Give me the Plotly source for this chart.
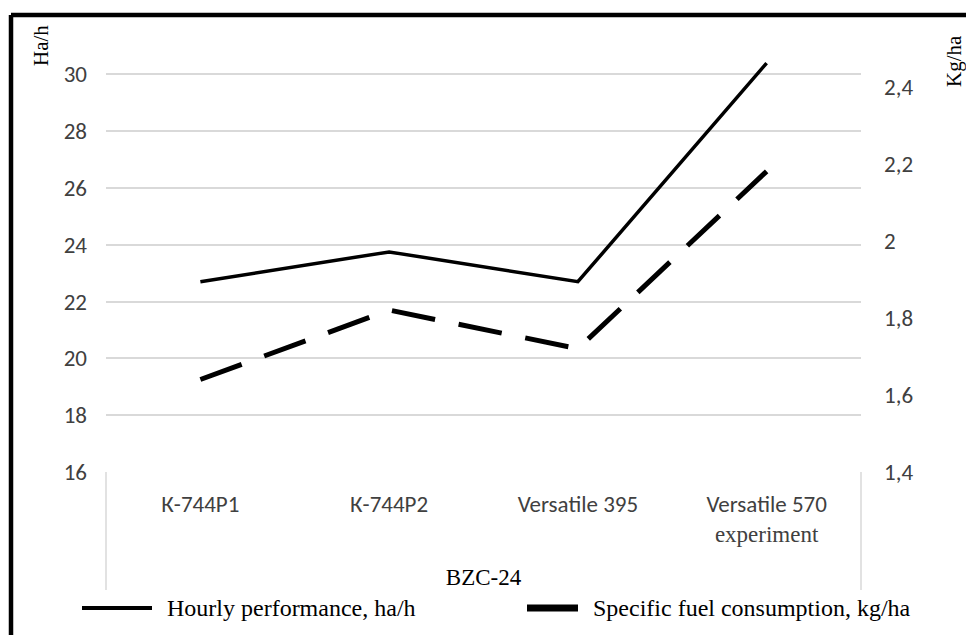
import plotly.graph_objects as go

# dati
tractors = ["K-744P1", "K-744P2", "Versatile 395", "Versatile 570 experiment"]
tractor_labels = ["К-744Р1", "К-744Р2", "Versatile 395",
                  "Versatile 570<br><span style='font-family:Liberation Serif'>experiment</span>"]
hourly_perf = [22.7, 23.75, 22.7, 30.4]        # ha/h, asse sinistro
fuel_cons = [1.64, 1.82, 1.72, 2.18]           # kg/ha, asse destro
series_names = ["Hourly performance, ha/h", "Specific fuel consumption, kg/ha"]

left_ticks = [16, 18, 20, 22, 24, 26, 28, 30]
right_ticks = [1.4, 1.6, 1.8, 2.0, 2.2, 2.4]
right_labels = ["1,4", "1,6", "1,8", "2", "2,2", "2,4"]

sans = "Carlito, Lato, sans-serif"
serif = "Liberation Serif, Times New Roman, serif"

fig = go.Figure()

fig.add_trace(go.Scatter(x=tractors, y=hourly_perf, mode="lines",
                         name=series_names[0],
                         line=dict(color="black", width=3.5)))
fig.add_trace(go.Scatter(x=tractors, y=fuel_cons, mode="lines",
                         name=series_names[1], yaxis="y2",
                         line=dict(color="black", width=5, dash="44px,24px")))

# la pagina ha 8px di margine nel body
OFF = 8
W, H = 974, 635
L, R, T, B = 106 - OFF, W - (861 - OFF), 46 - OFF, H - (472 - OFF)
pw, ph = W - L - R, H - T - B


def px_x(p):
    return (p - OFF - L) / pw


def px_y(p):
    return (H - B - (p - OFF)) / ph


fig.update_layout(
    width=W, height=H,
    margin=dict(l=L, r=R, t=T, b=B, autoexpand=False),
    paper_bgcolor="white", plot_bgcolor="white",
    separators=", ",
    showlegend=False,
    xaxis=dict(tickmode="array", tickvals=tractors, ticktext=tractor_labels,
               range=[-0.5, 3.5], automargin=False,
               tickfont=dict(family=sans, size=23, color="#404040"),
               ticks="", ticklabelstandoff=16,
               showgrid=False, showline=False, zeroline=False,
               title=dict(text="BZC-24", font=dict(family=serif, size=23, color="black"),
                          standoff=22)),
    yaxis=dict(range=[16, 31], tickmode="array", tickvals=left_ticks, automargin=False,
               tickfont=dict(family=sans, size=23, color="#404040"),
               ticklabelstandoff=18,
               showgrid=True, gridcolor="#d9d9d9", gridwidth=1.5,
               zeroline=False, showline=False),
    yaxis2=dict(range=[1.4, 1.4 + ph / 385.5], overlaying="y", side="right",
                tickmode="array", tickvals=right_ticks, ticktext=right_labels,
                automargin=False,
                tickfont=dict(family=sans, size=23, color="#404040"),
                ticklabelstandoff=22,
                showgrid=False, zeroline=False, showline=False),
)

# titoli degli assi verticali
fig.add_annotation(text="Ha/h", textangle=-90, xref="paper", yref="paper",
                   x=px_x(41), y=px_y(46), xanchor="center", yanchor="middle",
                   showarrow=False, font=dict(family=serif, size=21, color="black"))
fig.add_annotation(text="Kg/ha", textangle=-90, xref="paper", yref="paper",
                   x=px_x(954), y=px_y(61), xanchor="center", yanchor="middle",
                   showarrow=False, font=dict(family=serif, size=21, color="black"))

# legenda disegnata a mano (simboli lunghi come nell'originale)
legend_items = [(82, 152, 4, None), (527, 578, 7, None)]
for (xa, xb, lw, _), name in zip(legend_items, series_names):
    fig.add_shape(type="line", xref="paper", yref="paper",
                  x0=px_x(xa), x1=px_x(xb), y0=px_y(608), y1=px_y(608),
                  line=dict(color="black", width=lw))
    fig.add_annotation(text=name, xref="paper", yref="paper",
                       x=px_x(xb + 13), y=px_y(608), xanchor="left", yanchor="middle",
                       showarrow=False, font=dict(family=serif, size=24, color="black"))

# riquadro delle categorie e cornice nera
for xv in [0, 1]:
    fig.add_shape(type="line", xref="paper", yref="paper",
                  x0=xv, x1=xv, y0=0, y1=px_y(590),
                  line=dict(color="#d9d9d9", width=1.5))
fig.add_shape(type="line", xref="paper", yref="paper",
              x0=px_x(11), x1=px_x(990), y0=px_y(15), y1=px_y(15),
              line=dict(color="black", width=4.5))
fig.add_shape(type="line", xref="paper", yref="paper",
              x0=px_x(11), x1=px_x(11), y0=px_y(15), y1=px_y(650),
              line=dict(color="black", width=4.5))

fig.write_html("out.html")
